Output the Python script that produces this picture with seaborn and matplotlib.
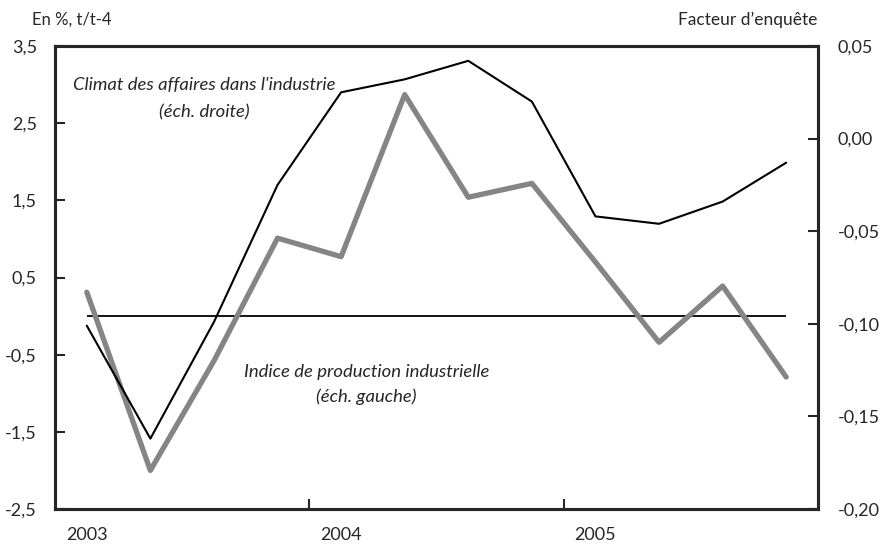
import numpy as np
import pandas as pd
import matplotlib
matplotlib.use("Agg")
import matplotlib.pyplot as plt
import seaborn as sns

# Quarterly data, 2003Q1 - 2005Q4
quarters = ['2003T1', '2003T2', '2003T3', '2003T4',
            '2004T1', '2004T2', '2004T3', '2004T4',
            '2005T1', '2005T2', '2005T3', '2005T4']
# Indice de production industrielle, en %, t/t-4 (left scale)
production = [0.31, -2.0, -0.58, 1.01, 0.77, 2.87, 1.54, 1.72, 0.70, -0.34, 0.39, -0.79]
# Climat des affaires dans l'industrie, facteur d'enquete (right scale)
climat = [-0.101, -0.162, -0.099, -0.025, 0.025, 0.032, 0.042, 0.020, -0.042, -0.046, -0.034, -0.013]

year_labels = ['2003', '2004', '2005']
left_ticks = [-2.5, -1.5, -0.5, 0.5, 1.5, 2.5, 3.5]
left_labels = ['-2,5', '-1,5', '-0,5', '0,5', '1,5', '2,5', '3,5']
right_ticks = [-0.20, -0.15, -0.10, -0.05, 0.00, 0.05]
right_labels = ['-0,20', '-0,15', '-0,10', '-0,05', '0,00', '0,05']

df = pd.DataFrame({'quarter': quarters, 'production': production, 'climat': climat})
df['pos'] = np.arange(len(df))

sns.set_style("ticks")
plt.rcParams['font.family'] = ['Lato', 'DejaVu Sans']
plt.rcParams['axes.linewidth'] = 2.2

fig, ax = plt.subplots(figsize=(8.81, 5.49), dpi=100)
fig.subplots_adjust(left=55/881, right=818/881, top=1-46/549, bottom=1-509/549)
ax2 = ax.twinx()

# zero line on left scale
ax.hlines(0, df['pos'].iloc[0], df['pos'].iloc[-1], color='black', linewidth=1.3, zorder=1)

sns.lineplot(data=df, x='pos', y='production', ax=ax, color='#858585', linewidth=3.8, zorder=2)
sns.lineplot(data=df, x='pos', y='climat', ax=ax2, color='black', linewidth=1.5, zorder=3)

ax.set_xlim(-0.5, len(df) - 0.5)
ax.set_ylim(-2.5, 3.5)
ax2.set_ylim(-0.20, 0.05)

ax.set_yticks(left_ticks)
ax.set_yticklabels(left_labels)
ax2.set_yticks(right_ticks)
ax2.set_yticklabels(right_labels)

# year boundaries as tick marks, year labels under first quarter
ax.set_xticks([3.5, 7.5])
ax.set_xticklabels(['', ''])
ax.set_xticks([0, 4, 8], minor=True)
ax.set_xticklabels(year_labels, minor=True)
ax.tick_params(axis='x', which='minor', length=0, pad=13, labelsize=13)
ax.tick_params(axis='x', which='major', direction='in', length=7, width=1.5)
ax.tick_params(axis='y', direction='in', length=7, width=1.5, labelsize=13, pad=13)
ax2.tick_params(axis='y', direction='in', length=7, width=1.5, labelsize=13, pad=14)

ax.set_xlabel('')
ax.set_ylabel('')
ax2.set_ylabel('')
for a in (ax, ax2):
    for s in a.spines.values():
        s.set_linewidth(2.2)

fig.text(32/881, 1-20/549, 'En %, t/t-4', fontsize=12, ha='left', va='center')
fig.text(817/881, 1-20/549, 'Facteur d\u2019enqu\u00eate', fontsize=12.5, ha='right', va='center')

ax.text(1.85, 2.99, "Climat des affaires dans l'industrie", fontsize=13.3, style='italic', ha='center', va='center')
ax.text(1.85, 2.64, "(\u00e9ch. droite)", fontsize=13.3, style='italic', ha='center', va='center')
ax.text(4.4, -0.72, "Indice de production industrielle", fontsize=13.3, style='italic', ha='center', va='center')
ax.text(4.4, -1.05, "(\u00e9ch. gauche)", fontsize=13.3, style='italic', ha='center', va='center')

plt.savefig('out.png', dpi=100)
